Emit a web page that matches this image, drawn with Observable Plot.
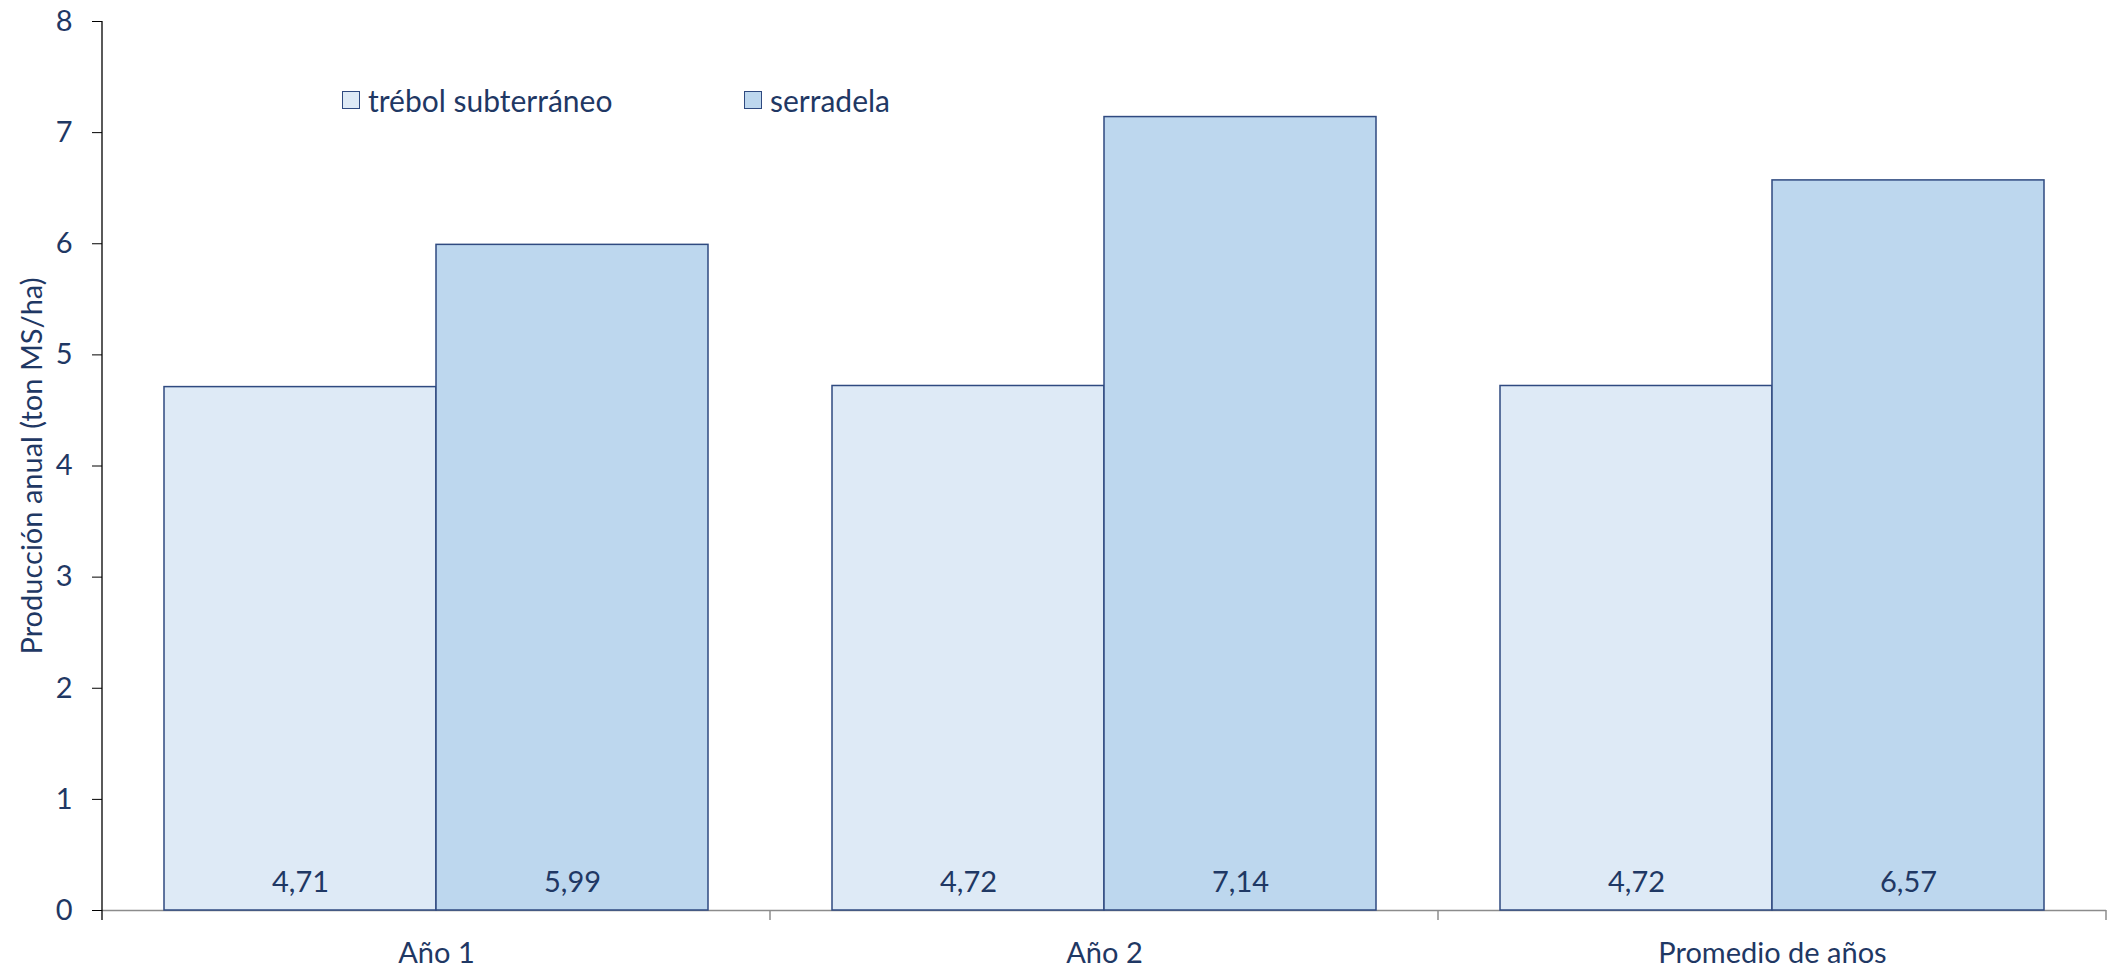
<!DOCTYPE html>
<html><head><meta charset="utf-8">
<script src="https://cdn.jsdelivr.net/npm/d3@7"></script>
<script src="https://cdn.jsdelivr.net/npm/@observablehq/plot@0.6"></script>
<style>
body{margin:0;background:#fff;font-family:Lato,sans-serif;}
#wrap{position:relative;width:2111px;height:968px;}
#legend{position:absolute;left:342px;top:82px;display:flex;align-items:center;font-size:30px;color:#1F3864;}
.item{display:flex;align-items:center;}
.sw{width:16px;height:16px;border:1.5px solid #2F4A80;margin-right:8px;}
</style>
</head><body>
<div id="wrap"><div id="legend"></div></div>
<script>
const categories = ["Año 1", "Año 2", "Promedio de años"];
const series = ["trébol subterráneo", "serradela"];
const trebol = [4.71, 4.72, 4.72];
const serradela = [5.99, 7.14, 6.57];
const yTicks = [0, 1, 2, 3, 4, 5, 6, 7, 8];
const colors = ["#DEEAF6", "#BDD7EE"];
const textColor = "#1F3864";

const rows = [];
categories.forEach((c, i) => {
  rows.push({cat: c, series: series[0], value: trebol[i]});
  rows.push({cat: c, series: series[1], value: serradela[i]});
});
const fmt = v => v.toFixed(2).replace(".", ",");

const chart = Plot.plot({
  width: 2111, height: 968,
  marginLeft: 101, marginRight: 4, marginTop: 21, marginBottom: 58,
  style: {fontFamily: "Lato, sans-serif", fontSize: "29px", color: textColor, background: "white", overflow: "visible"},
  fx: {domain: categories, padding: 0, label: null, axis: null},
  x: {domain: series, paddingInner: 0, paddingOuter: 0.225, axis: null},
  y: {domain: [0, 8], ticks: yTicks},
  color: {domain: series, range: colors},
  marks: [
    Plot.ruleY([0], {stroke: "#8c8c8c", strokeWidth: 1.5}),
    Plot.barY(rows, {fx: "cat", x: "series", y: "value", fill: "series", stroke: "#2F4A80", strokeWidth: 1.5}),
    Plot.text(rows, {fx: "cat", x: "series", y: 0, text: d => fmt(d.value), dy: -28, fill: textColor, fontSize: 29}),
    Plot.axisY({ticks: yTicks, tickSize: 10, tickPadding: 20, stroke: "#000", fill: textColor, tickFormat: d => String(d),
      label: "Producción anual (ton MS/ha)", labelArrow: "none", labelAnchor: "center", labelOffset: 81, fontSize: 29}),
    Plot.axisFx({anchor: "bottom", tickSize: 0, tickPadding: 32, fill: textColor, label: null, fontSize: 29})
  ]
});
document.getElementById("wrap").prepend(chart);

// axis line and category boundary ticks from the library scales
const y = chart.scale("y"), fx = chart.scale("fx");
const svg = d3.select(chart);
const y0 = y.apply(0), yTop = y.apply(8);
const x0 = fx.apply(categories[0]);
svg.append("line").attr("x1", x0).attr("x2", x0).attr("y1", yTop).attr("y2", y0 + 10)
  .attr("stroke", "#000").attr("stroke-width", 1.3);
const edges = categories.slice(1).map(c => fx.apply(c));
edges.push(fx.apply(categories[categories.length - 1]) + fx.bandwidth);
edges.forEach(xe => svg.append("line").attr("x1", xe).attr("x2", xe).attr("y1", y0).attr("y2", y0 + 10)
  .attr("stroke", "#8c8c8c").attr("stroke-width", 1.5));

// legend
const leg = d3.select("#legend");
series.forEach((s, i) => {
  const it = leg.append("div").attr("class", "item").style("width", i === 0 ? "402px" : null);
  it.append("div").attr("class", "sw").style("background", colors[i]);
  it.append("span").text(s);
});
</script>
</body></html>
